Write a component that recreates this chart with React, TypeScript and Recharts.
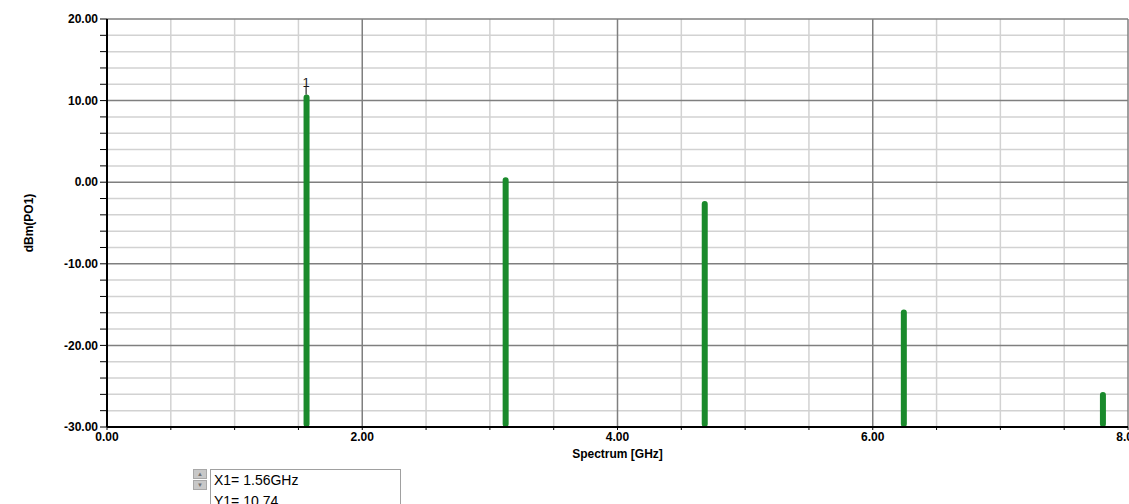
import {
  Bar,
  CartesianGrid,
  ComposedChart,
  ReferenceDot,
  XAxis,
  YAxis,
} from "recharts";

const frequencies = [1.56, 3.12, 4.68, 6.24, 7.8];
const levels = [10.74, 0.6, -2.3, -15.6, -25.7];

const xTicks = [0, 0.5, 1, 1.5, 2, 2.5, 3, 3.5, 4, 4.5, 5, 5.5, 6, 6.5, 7, 7.5, 8];
const yTicks = [-30, -28, -26, -24, -22, -20, -18, -16, -14, -12, -10, -8, -6, -4, -2, 0, 2, 4, 6, 8, 10, 12, 14, 16, 18, 20];
const xMajor = [2, 4, 6, 8];
const yMajor = [-20, -10, 0, 10, 20];

const Y_MIN = -30;
const Y_MAX = 20;

const markerLabel = "1";
const markerFreq = "1.56GHz";
const markerLevel = "10.74";

const chartData = frequencies.map((freq, i) => ({
  freq,
  range: [Y_MIN, levels[i]],
}));

const tickFont = {
  fill: "#000000",
  fontSize: 12,
  fontWeight: 700,
  fontFamily: "'Liberation Sans', Arial, sans-serif",
};

const MarkerShape = (props: { cx?: number; cy?: number }) => {
  const { cx = 0, cy = 0 } = props;
  return (
    <g>
      <line x1={cx} y1={cy} x2={cx} y2={cy - 8} stroke="#000" strokeWidth={1} />
      <text
        x={cx}
        y={cy - 8}
        textAnchor="middle"
        fontSize={13}
        fontFamily="'Liberation Sans', Arial, sans-serif"
        fill="#1a1a1a"
      >
        {markerLabel}
      </text>
    </g>
  );
};

const App = () => {
  const minorX = xTicks.filter((t) => !xMajor.includes(t) && t !== 0);
  const minorY = yTicks.filter((t) => !yMajor.includes(t) && t !== Y_MIN);

  return (
    <div style={{ position: "relative", width: 1129, height: 504, overflow: "hidden", background: "#fff" }}>
      <style>{"body{margin:0;}"}</style>
      <ComposedChart
        width={1129}
        height={504}
        data={chartData}
        margin={{ top: 19, right: 1, bottom: 47, left: 0 }}
      >
        <CartesianGrid
          stroke="#d2d2d2"
          strokeWidth={1.5}
          horizontalValues={minorY}
          verticalValues={minorX}
        />
        <CartesianGrid
          stroke="#7f7f7f"
          strokeWidth={1.5}
          horizontalValues={yMajor}
          verticalValues={xMajor}
        />
        <XAxis
          dataKey="freq"
          type="number"
          domain={[0, 8]}
          ticks={xTicks}
          interval={0}
          height={30}
          allowDataOverflow
          axisLine={{ stroke: "#000", strokeWidth: 2 }}
          tickLine={{ stroke: "#000" }}
          tickSize={3}
          tick={tickFont}
          tickFormatter={(v: number) => (v % 2 === 0 ? v.toFixed(2) : "")}
          label={{
            value: "Spectrum [GHz]",
            position: "bottom",
            offset: -8,
            style: { ...tickFont, textAnchor: "middle" },
          }}
        />
        <YAxis
          type="number"
          domain={[Y_MIN, Y_MAX]}
          ticks={yTicks}
          interval={0}
          width={107}
          allowDataOverflow
          axisLine={{ stroke: "#000", strokeWidth: 2 }}
          tickLine={{ stroke: "#000" }}
          tickSize={7}
          tick={tickFont}
          tickFormatter={(v: number) => (v % 10 === 0 ? v.toFixed(2) : "")}
          label={{
            value: "dBm(PO1)",
            angle: -90,
            position: "insideLeft",
            offset: 29,
            style: { ...tickFont, textAnchor: "middle" },
          }}
        />
        <Bar
          dataKey="range"
          fill="#1a8a2c"
          barSize={6}
          radius={3}
          isAnimationActive={false}
        />
        <ReferenceDot
          x={frequencies[0]}
          y={levels[0]}
          r={0}
          shape={<MarkerShape />}
        />
      </ComposedChart>

      <div
        style={{
          position: "absolute",
          left: 193,
          top: 469,
          width: 14,
          display: "flex",
          flexDirection: "column",
          gap: 1,
        }}
      >
        {["▲", "▼"].map((arrow) => (
          <div
            key={arrow}
            style={{
              height: 8,
              background: "#c8c8c8",
              border: "1px solid #a8a8a8",
              color: "#707070",
              fontSize: 6,
              lineHeight: "8px",
              textAlign: "center",
            }}
          >
            {arrow}
          </div>
        ))}
      </div>
      <div
        style={{
          position: "absolute",
          left: 210,
          top: 469,
          width: 191,
          height: 60,
          border: "1px solid #a0a0a0",
          background: "#fff",
          fontFamily: "'Liberation Sans', Arial, sans-serif",
          fontSize: 14,
          lineHeight: "21px",
          paddingLeft: 3,
          color: "#000",
          boxSizing: "border-box",
        }}
      >
        <div>X1= {markerFreq}</div>
        <div>Y1= {markerLevel}</div>
      </div>
    </div>
  );
};

export default App;
